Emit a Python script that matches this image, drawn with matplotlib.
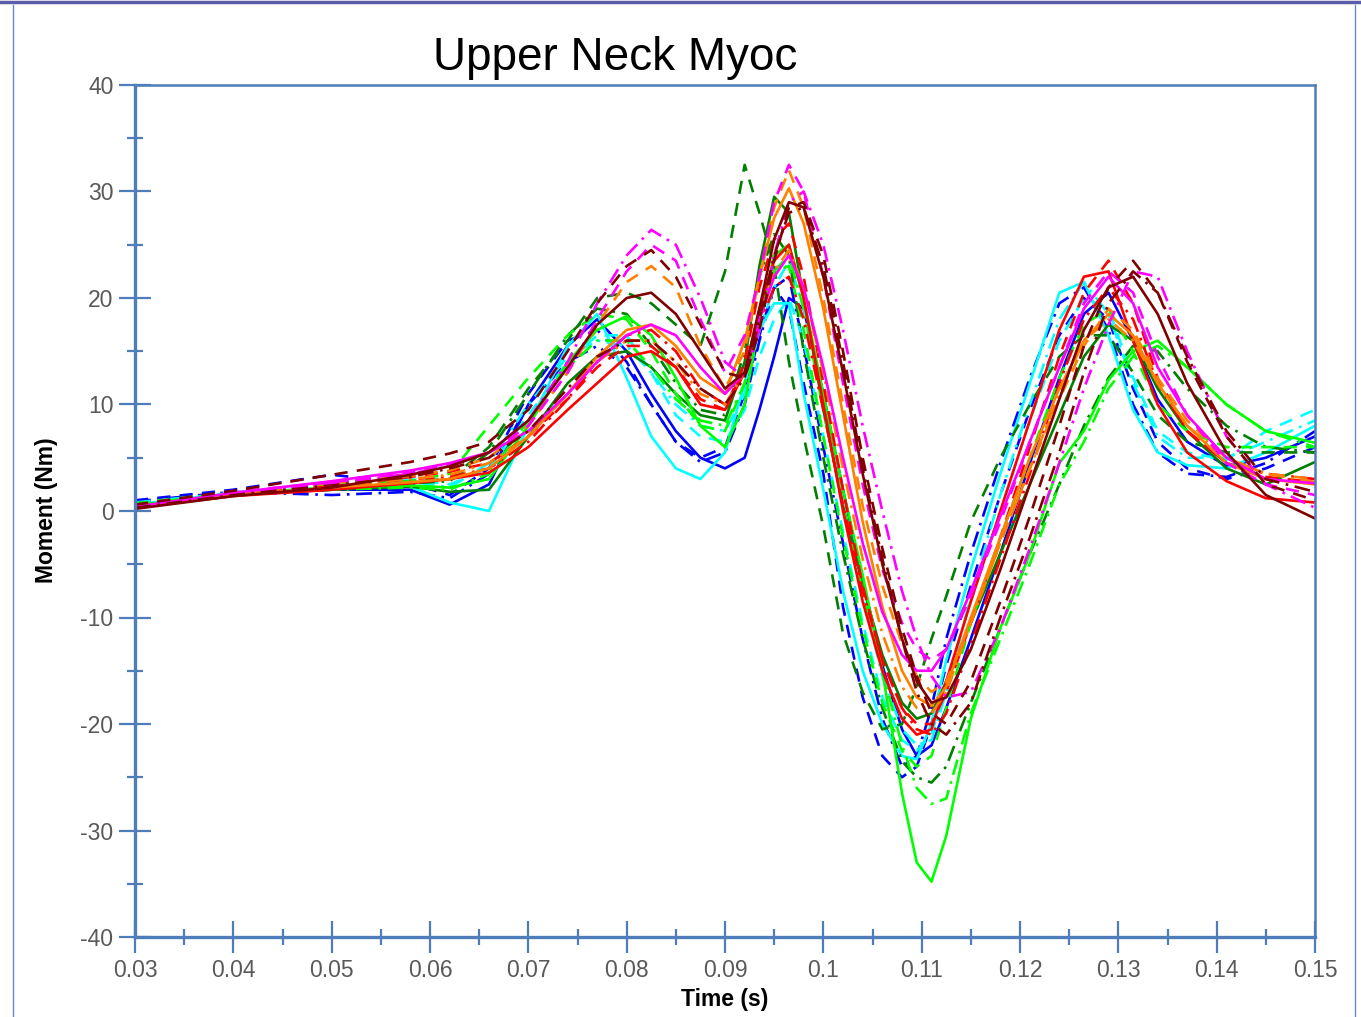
import matplotlib
matplotlib.use('Agg')
import matplotlib.pyplot as plt
from matplotlib.lines import Line2D
from matplotlib.ticker import MultipleLocator, FuncFormatter

plt.rcParams['font.family'] = ['Liberation Sans', 'DejaVu Sans']
plt.rcParams['axes.unicode_minus'] = False

# time grid (s)
time_s = [0.03, 0.04, 0.05, 0.058, 0.062, 0.066, 0.070, 0.074, 0.077, 0.080,
          0.0825, 0.085, 0.0875, 0.090, 0.092, 0.0935, 0.095, 0.0965, 0.098, 0.100,
          0.102, 0.104, 0.106, 0.108, 0.1095, 0.111, 0.1125, 0.115, 0.118, 0.121,
          0.124, 0.1265, 0.129, 0.1315, 0.134, 0.137, 0.141, 0.145, 0.15]

# moment (Nm)
blue_solid = [0.4, 1.5, 2.0, 2.0, 0.6, 2.5, 10.0, 15.5, 18.0, 15.0, 11.0, 7.5, 5.0, 4.0, 5.0, 9.5, 14.5, 20.0, 19.0, 11.0,
              2.0, -6.5, -14.5, -20.5, -23.0, -22.0, -18.5, -12.0, -4.0, 4.5, 12.5, 18.5, 20.5, 16.0, 10.5, 6.5, 4.2, 5.0, 7.0]
blue_dash = [1.0, 2.0, 3.4, 2.6, 1.5, 4.0, 11.0, 16.0, 17.0, 14.0, 10.0, 6.5, 5.0, 6.0, 11.0, 16.5, 21.0, 19.0, 12.0, 3.5,
             -9.0, -17.5, -23.0, -25.0, -24.0, -20.0, -14.5, -7.0, 1.5, 9.5, 16.5, 20.0, 18.0, 11.5, 6.5, 4.0, 3.0, 4.0, 6.0]
blue_dashdot = [0.9, 1.8, 1.5, 1.8, 1.2, 3.5, 10.0, 14.0, 15.5, 13.5, 10.0, 6.5, 4.6, 5.5, 10.0, 16.0, 21.0, 22.0, 15.5, 6.0,
                -3.0, -12.0, -19.5, -24.0, -23.0, -18.5, -12.0, -4.0, 4.5, 12.5, 19.5, 21.0, 17.0, 10.0, 5.5, 3.5, 3.2, 4.5, 7.5]
cyan_solid = [0.6, 1.7, 2.2, 2.3, 0.8, 0.0, 8.0, 15.5, 18.5, 12.5, 7.0, 4.0, 3.0, 5.5, 12.0, 17.0, 19.5, 19.5, 11.0, 2.0,
              -7.5, -15.0, -20.0, -23.0, -23.3, -20.0, -14.0, -5.5, 3.5, 12.0, 20.5, 21.5, 16.5, 9.5, 5.5, 4.3, 4.0, 5.5, 8.0]
cyan_dash = [0.7, 1.6, 2.4, 3.0, 2.5, 4.0, 9.0, 14.0, 16.5, 16.5, 13.0, 9.0, 7.0, 6.5, 9.5, 14.5, 18.0, 20.0, 16.0, 7.0,
             -2.0, -10.5, -17.5, -21.5, -22.5, -21.0, -16.0, -8.5, 0.0, 8.5, 16.0, 20.0, 19.0, 12.5, 7.5, 5.5, 4.8, 7.5, 9.5]
cyan_dashdot = [0.8, 1.7, 2.5, 2.8, 2.2, 4.5, 10.0, 14.5, 16.0, 15.5, 13.0, 10.0, 8.0, 7.5, 11.0, 17.0, 21.0, 23.5, 19.0, 10.0,
                0.5, -8.0, -15.5, -20.5, -22.0, -21.5, -17.0, -8.0, 1.5, 10.0, 18.0, 21.5, 18.5, 12.0, 7.0, 5.0, 5.0, 6.5, 8.5]
green_solid = [0.5, 1.6, 2.0, 2.3, 1.8, 2.0, 7.0, 12.0, 14.5, 15.0, 13.5, 11.0, 9.0, 8.5, 14.0, 23.0, 29.5, 28.0, 20.0, 9.5,
               0.5, -7.0, -13.5, -18.0, -19.5, -19.0, -16.0, -10.5, -4.0, 2.5, 9.0, 14.5, 17.5, 16.0, 11.5, 7.5, 4.0, 2.5, 4.6]
green_dash = [0.7, 1.7, 2.3, 2.8, 3.0, 6.0, 11.5, 16.0, 20.0, 20.5, 19.5, 17.5, 15.5, 22.5, 32.5, 28.0, 23.0, 14.0, 7.0, -1.5,
              -11.5, -17.0, -20.5, -20.0, -16.5, -12.0, -8.0, -1.0, 5.0, 10.0, 14.5, 16.5, 16.5, 13.0, 9.0, 6.5, 5.5, 5.5, 5.5]
green_dashdot = [0.6, 1.5, 2.2, 2.6, 2.8, 5.5, 11.0, 16.5, 19.0, 18.5, 15.5, 12.0, 9.5, 9.0, 15.0, 22.0, 26.0, 24.0, 15.0, 5.0,
                 -4.0, -12.0, -18.5, -23.5, -25.0, -25.5, -24.0, -18.0, -11.0, -4.0, 2.5, 8.0, 12.5, 15.5, 15.0, 11.5, 8.0, 6.0, 5.5]
lime_solid = [0.5, 1.6, 2.2, 2.4, 2.2, 3.0, 8.0, 14.0, 17.0, 18.3, 16.5, 12.5, 8.0, 6.0, 10.0, 18.0, 24.0, 25.0, 20.0, 11.0,
              2.0, -6.0, -15.0, -26.5, -33.0, -34.8, -30.5, -19.5, -11.0, -4.0, 4.5, 7.5, 12.3, 15.0, 16.0, 13.5, 10.0, 7.5, 6.4]
lime_dash = [0.7, 1.8, 2.4, 2.8, 3.5, 8.0, 12.5, 16.5, 18.5, 18.0, 15.0, 11.0, 8.0, 7.5, 12.0, 18.0, 22.5, 23.0, 17.0, 7.0,
             -2.5, -11.0, -18.0, -22.5, -24.0, -23.0, -18.5, -10.5, -2.5, 5.0, 12.5, 17.5, 19.0, 15.0, 10.0, 7.5, 6.0, 6.0, 6.0]
lime_dashdot = [0.6, 1.7, 2.0, 2.2, 2.0, 3.5, 8.5, 13.5, 16.0, 16.0, 13.5, 10.5, 8.5, 8.0, 12.0, 18.0, 22.5, 24.0, 19.0, 9.5,
                0.5, -7.5, -15.0, -22.0, -26.0, -27.5, -27.0, -19.0, -12.0, -5.0, 2.5, 6.5, 11.5, 14.5, 15.5, 13.5, 10.0, 7.5, 6.0]
red_solid = [0.3, 1.4, 2.0, 2.6, 3.0, 3.6, 6.0, 9.5, 12.0, 14.5, 15.0, 13.5, 10.0, 9.5, 13.0, 19.0, 23.5, 25.0, 20.0, 10.0,
             0.0, -8.5, -15.0, -19.5, -21.0, -20.5, -16.0, -8.5, 0.0, 8.5, 17.0, 22.0, 22.5, 16.0, 10.0, 5.5, 2.8, 1.2, 0.8]
red_dash = [0.5, 1.6, 2.3, 3.2, 3.7, 4.5, 7.0, 10.5, 13.5, 15.5, 15.5, 13.5, 10.5, 9.5, 14.0, 21.0, 25.5, 27.0, 22.0, 12.0,
            2.0, -7.0, -14.0, -18.5, -20.0, -20.0, -17.0, -10.5, -2.5, 6.0, 14.5, 20.5, 23.5, 19.5, 12.5, 7.5, 4.5, 3.2, 2.7]
red_dashdot = [0.4, 1.5, 2.2, 3.0, 3.2, 4.0, 6.5, 10.5, 14.0, 16.5, 17.0, 15.0, 11.5, 10.0, 13.0, 17.5, 21.0, 22.0, 18.0, 9.5,
               0.5, -7.5, -14.0, -18.5, -20.5, -21.0, -19.0, -12.5, -4.5, 3.5, 12.0, 18.0, 21.0, 18.0, 12.0, 7.5, 4.5, 3.5, 3.0]
orange_solid = [0.4, 1.5, 2.2, 2.7, 3.0, 4.0, 7.0, 11.0, 14.5, 17.0, 17.5, 15.5, 12.5, 11.0, 16.0, 22.0, 27.5, 30.3, 27.0, 19.0,
                9.0, -1.0, -9.0, -15.0, -17.5, -18.3, -16.5, -10.0, -2.5, 5.0, 11.5, 16.0, 18.5, 16.5, 12.0, 8.0, 4.5, 3.0, 2.5]
orange_dash = [0.5, 1.7, 2.6, 3.3, 3.8, 5.0, 8.0, 13.0, 17.5, 21.5, 23.0, 21.0, 15.5, 11.5, 15.0, 22.0, 28.5, 32.0, 28.5, 20.0,
               10.0, 0.5, -7.0, -12.5, -15.5, -17.0, -16.0, -10.5, -3.0, 4.0, 10.5, 15.5, 19.0, 17.0, 12.5, 8.5, 5.0, 3.5, 3.0]
orange_dashdot = [0.4, 1.6, 2.4, 3.0, 3.4, 4.5, 7.0, 11.0, 14.0, 16.0, 16.0, 14.0, 11.0, 10.0, 13.0, 18.0, 22.5, 24.5, 21.0, 13.0,
                  4.0, -4.5, -11.5, -16.5, -18.5, -19.0, -17.0, -10.5, -3.0, 4.0, 11.0, 16.0, 18.0, 16.0, 12.0, 8.0, 5.0, 3.5, 2.7]
magenta_solid = [0.4, 1.7, 2.8, 3.8, 4.5, 5.5, 7.5, 11.0, 14.0, 16.5, 17.5, 16.5, 13.5, 11.0, 13.0, 18.0, 22.0, 24.0, 21.0, 13.5,
                 5.0, -3.0, -9.5, -13.5, -15.0, -15.0, -13.0, -7.5, -0.5, 6.5, 13.5, 19.0, 22.0, 19.5, 13.5, 9.0, 5.0, 3.0, 2.6]
magenta_dash = [0.5, 1.8, 2.7, 3.6, 4.3, 5.5, 8.0, 13.0, 18.0, 22.5, 25.0, 23.5, 18.0, 13.0, 16.5, 22.0, 29.0, 32.5, 30.0, 22.0,
                12.0, 2.5, -5.5, -10.5, -13.0, -14.0, -13.0, -8.0, -1.0, 6.5, 13.5, 19.5, 22.5, 20.5, 14.5, 9.0, 4.5, 2.5, 1.5]
magenta_dashdot = [0.4, 1.6, 2.6, 3.5, 4.2, 5.5, 8.5, 14.0, 19.5, 24.0, 26.4, 25.0, 20.0, 14.0, 12.5, 17.0, 24.0, 29.0, 30.0, 25.0,
                   17.0, 8.0, 0.0, -7.5, -12.0, -15.5, -17.5, -17.0, -11.0, -3.5, 4.5, 11.5, 17.5, 22.5, 22.0, 15.0, 7.0, 2.5, 0.3]
maroon_solid = [0.2, 1.4, 2.2, 3.4, 4.2, 5.5, 8.5, 13.5, 17.5, 20.0, 20.5, 18.5, 15.0, 11.5, 13.0, 19.0, 25.5, 29.0, 28.5, 22.0,
                13.0, 3.5, -5.0, -12.0, -16.0, -18.0, -17.5, -13.0, -5.5, 2.5, 10.5, 17.0, 21.0, 22.0, 18.5, 12.0, 5.5, 1.5, -0.7]
maroon_dash = [0.6, 1.9, 3.4, 4.6, 5.4, 6.5, 9.5, 15.0, 19.5, 23.0, 24.5, 22.0, 17.5, 13.0, 12.5, 17.0, 23.5, 28.5, 29.0, 24.0,
               15.0, 5.0, -3.5, -11.0, -15.5, -19.0, -20.0, -16.0, -8.5, -0.5, 8.0, 15.5, 21.0, 23.5, 20.5, 14.0, 7.0, 2.5, 1.0]
maroon_dashdot = [0.3, 1.5, 2.4, 3.2, 4.0, 5.0, 7.5, 11.5, 14.5, 16.0, 16.0, 14.0, 11.5, 10.0, 12.5, 18.0, 24.0, 28.0, 28.5, 23.0,
                  14.0, 4.0, -4.5, -12.0, -17.0, -20.0, -21.0, -18.0, -10.0, -2.5, 5.5, 13.0, 19.5, 22.5, 20.5, 14.5, 7.5, 3.0, 1.8]

AXIS_COL = '#4f7db9'
DASH = (5, 3.5)
DASHDOT = (6, 2.5, 1, 2.5)

series = [
    (blue_solid, '#0000ff', None), (blue_dash, '#0000ff', DASH), (blue_dashdot, '#0000ff', DASHDOT),
    (cyan_solid, '#00ffff', None), (cyan_dash, '#00ffff', DASH), (cyan_dashdot, '#00ffff', DASHDOT),
    (green_solid, '#008000', None), (green_dash, '#008000', DASH), (green_dashdot, '#008000', DASHDOT),
    (lime_solid, '#00ff00', None), (lime_dash, '#00ff00', DASH), (lime_dashdot, '#00ff00', DASHDOT),
    (red_solid, '#ff0000', None), (red_dash, '#ff0000', DASH), (red_dashdot, '#ff0000', DASHDOT),
    (orange_solid, '#ff8000', None), (orange_dash, '#ff8000', DASH), (orange_dashdot, '#ff8000', DASHDOT),
    (magenta_solid, '#ff00ff', None), (magenta_dash, '#ff00ff', DASH), (magenta_dashdot, '#ff00ff', DASHDOT),
    (maroon_solid, '#800000', None), (maroon_dash, '#800000', DASH), (maroon_dashdot, '#800000', DASHDOT),
]

fig = plt.figure(figsize=(13.61, 10.17), dpi=100)
ax = fig.add_axes([135 / 1361, 80 / 1017, 1180 / 1361, 852 / 1017])

for vals, col, dashes in series:
    line, = ax.plot(time_s, vals, color=col, lw=1.9, solid_joinstyle='round')
    if dashes is not None:
        line.set_dashes(dashes)

ax.set_xlim(0.03, 0.15)
ax.set_ylim(-40, 40)
ax.xaxis.set_major_locator(MultipleLocator(0.01))
ax.xaxis.set_minor_locator(MultipleLocator(0.005))
ax.yaxis.set_major_locator(MultipleLocator(10))
ax.yaxis.set_minor_locator(MultipleLocator(5))
ax.xaxis.set_major_formatter(FuncFormatter(lambda v, p: f'{v:.2f}'.rstrip('0').rstrip('.')))
ax.yaxis.set_major_formatter(FuncFormatter(lambda v, p: f'{v:.0f}'))

ax.tick_params(which='major', direction='inout', length=23, width=1.6, color=AXIS_COL,
               labelsize=16.5, labelcolor='#595959', pad=4)
ax.tick_params(which='minor', direction='inout', length=11.5, width=1.6, color=AXIS_COL)

for side in ['left', 'bottom']:
    ax.spines[side].set_color(AXIS_COL)
    ax.spines[side].set_linewidth(2.4)
for side in ['top', 'right']:
    ax.spines[side].set_color(AXIS_COL)
    ax.spines[side].set_linewidth(1.8)

fig.text(615 / 1361, 1 - 70 / 1017, 'Upper Neck Myoc', ha='center', va='baseline', fontsize=33)
fig.text(725 / 1361, 1 - 1006 / 1017, 'Time (s)', ha='center', va='baseline', fontsize=16.5, weight='bold')
fig.text(47 / 1361, 1 - 510 / 1017, 'Moment (Nm)', ha='center', va='center', rotation=90,
         fontsize=16.5, weight='bold')

# page frame
fig.add_artist(Line2D([0, 1], [1 - 1.5 / 1017] * 2, color='#5b5ba8', lw=2.5, transform=fig.transFigure))
fig.add_artist(Line2D([13 / 1361] * 2, [0, 1 - 5 / 1017], color='#6a8cc6', lw=1.0, transform=fig.transFigure))
fig.add_artist(Line2D([1355 / 1361] * 2, [0, 1 - 5 / 1017], color='#6a8cc6', lw=1.0, transform=fig.transFigure))

fig.savefig('out.png', dpi=100)
